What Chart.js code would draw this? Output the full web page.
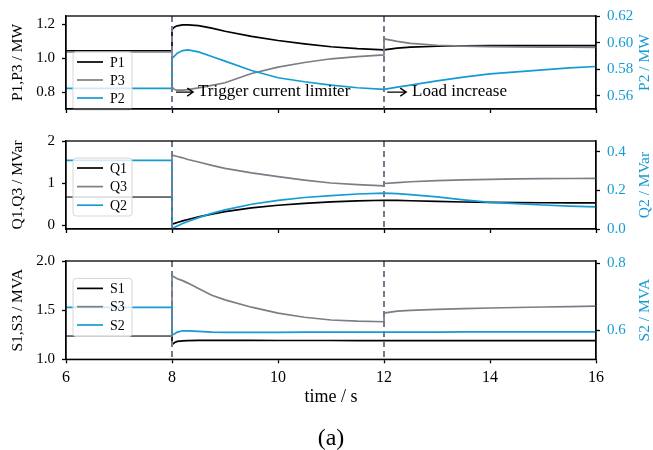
<!DOCTYPE html>
<html lang="en">
  <head>
    <meta charset="utf-8">
    <title>P, Q, S responses</title>
    <script src="https://cdn.jsdelivr.net/npm/chart.js@4.4.1/dist/chart.umd.min.js"></script>
    <style>
      body { margin: 0; background: #fff; }
      #wrap { position: relative; width: 653px; height: 450px; }
      canvas { position: absolute; left: 0; }
      #cap { position: absolute; left: 0; width: 662px; top: 423px; text-align: center;
             font: 24px "Liberation Serif", serif; line-height: 28px; color: #000; }
    </style>
  </head>
  <body>
    <div id="wrap">
      <canvas id="c1" width="653" height="125" style="top:0px"></canvas>
      <canvas id="c2" width="653" height="120" style="top:125px"></canvas>
      <canvas id="c3" width="653" height="205" style="top:245px"></canvas>
      <div id="cap">(a)</div>
    </div>
    <script>
      // time base (s); repeated 8 and 12 give the steps
      const time = [6, 8, 8, 8.05, 8.1, 8.2, 8.3, 8.5, 8.75, 9, 9.5, 10, 10.5, 11, 11.5, 12, 12, 12.25, 12.5, 13, 13.5, 14, 14.5, 15, 15.5, 16];

      const P1 = [1.044, 1.044, 1.17, 1.185, 1.192, 1.197, 1.198, 1.193, 1.178, 1.16, 1.13, 1.105, 1.085, 1.068, 1.057, 1.05, 1.05, 1.06, 1.066, 1.071, 1.074, 1.075, 1.075, 1.075, 1.075, 1.075];
      const P3 = [1.038, 1.038, 0.83, 0.815, 0.812, 0.812, 0.815, 0.825, 0.84, 0.855, 0.91, 0.948, 0.975, 0.997, 1.01, 1.02, 1.115, 1.1, 1.088, 1.077, 1.072, 1.069, 1.067, 1.066, 1.066, 1.065];
      const P2 = [0.5655, 0.5655, 0.588, 0.59, 0.592, 0.594, 0.5945, 0.593, 0.5895, 0.586, 0.579, 0.5735, 0.5705, 0.568, 0.566, 0.5648, 0.5648, 0.5665, 0.568, 0.5712, 0.574, 0.5765, 0.578, 0.5795, 0.581, 0.582];

      const Q1 = [0.67, 0.67, 0.02, 0.04, 0.06, 0.097, 0.131, 0.194, 0.261, 0.318, 0.407, 0.471, 0.517, 0.55, 0.574, 0.59, 0.59, 0.585, 0.578, 0.562, 0.548, 0.538, 0.533, 0.53, 0.529, 0.528];
      const Q3 = [0.67, 0.67, 1.67, 1.65, 1.63, 1.6, 1.56, 1.5, 1.42, 1.35, 1.24, 1.15, 1.07, 1.0, 0.96, 0.93, 0.99, 1.01, 1.03, 1.055, 1.075, 1.088, 1.097, 1.103, 1.107, 1.11];
      const Q2 = [0.355, 0.355, 0.003, 0.009, 0.016, 0.028, 0.039, 0.059, 0.081, 0.099, 0.128, 0.148, 0.163, 0.173, 0.181, 0.186, 0.186, 0.183, 0.178, 0.166, 0.151, 0.138, 0.131, 0.124, 0.118, 0.114];

      const S1 = [1.238, 1.238, 1.148, 1.17, 1.182, 1.188, 1.19, 1.192, 1.192, 1.192, 1.192, 1.191, 1.191, 1.191, 1.19, 1.19, 1.19, 1.19, 1.19, 1.19, 1.19, 1.19, 1.19, 1.19, 1.19, 1.19];
      const S3 = [1.238, 1.238, 1.85, 1.835, 1.82, 1.8, 1.775, 1.72, 1.652, 1.605, 1.53, 1.47, 1.428, 1.4, 1.388, 1.382, 1.47, 1.49, 1.497, 1.507, 1.515, 1.522, 1.527, 1.532, 1.536, 1.54];
      const S2 = [0.6675, 0.6675, 0.585, 0.589, 0.594, 0.598, 0.598, 0.596, 0.594, 0.593, 0.593, 0.593, 0.594, 0.594, 0.594, 0.594, 0.594, 0.594, 0.594, 0.594, 0.595, 0.595, 0.595, 0.595, 0.595, 0.595];

      // ticks
      const xTicks = [6, 8, 10, 12, 14, 16];
      const pLeftTicks = [0.8, 1.0, 1.2], pRightTicks = [0.56, 0.58, 0.60, 0.62];
      const qLeftTicks = [0, 1, 2], qRightTicks = [0.0, 0.2, 0.4];
      const sLeftTicks = [1.0, 1.5, 2.0], sRightTicks = [0.6, 0.8];

      // event times and the two notes
      const events = [8, 12];
      const noteText = ['Trigger current limiter', 'Load increase'];
      const noteArrowFrom = [8.075, 12.06];
      const noteArrowTo = [8.40, 12.42];
      const noteTextAt = [8.49, 12.53];
      const noteY = 0.8;

      const BLACK = '#000000', GRAY = '#7b7e86', BLUE = '#159bd3';
      const SERIF = '"Liberation Serif", "Times New Roman", serif';

      function pts(v) { return time.map((t, i) => ({x: t, y: v[i]})); }

      const panelPlugin = {
        id: 'panel',
        afterDatasetsDraw(chart, args, o) {
          const ctx = chart.ctx, a = chart.chartArea, xs = chart.scales.x;
          ctx.save();
          // dashed event markers
          ctx.strokeStyle = '#737b8f';
          ctx.lineWidth = 2;
          ctx.setLineDash([6, 4]);
          events.forEach(t => {
            const x = xs.getPixelForValue(t);
            ctx.beginPath(); ctx.moveTo(x, a.top); ctx.lineTo(x, a.bottom); ctx.stroke();
          });
          ctx.setLineDash([]);

          // notes with arrows
          if (o.notes) {
            const y = chart.scales.y.getPixelForValue(noteY);
            ctx.strokeStyle = '#000'; ctx.fillStyle = '#000'; ctx.lineWidth = 1.3;
            for (let i = 0; i < noteText.length; i++) {
              const x0 = xs.getPixelForValue(noteArrowFrom[i]);
              const x1 = xs.getPixelForValue(noteArrowTo[i]);
              ctx.beginPath();
              ctx.moveTo(x0, y); ctx.lineTo(x1, y);
              ctx.moveTo(x1 - 6, y - 4); ctx.lineTo(x1, y); ctx.lineTo(x1 - 6, y + 4);
              ctx.stroke();
              ctx.font = '17px ' + SERIF;
              ctx.textAlign = 'left'; ctx.textBaseline = 'middle';
              ctx.fillText(noteText[i], xs.getPixelForValue(noteTextAt[i]), y - 1);
            }
          }

          // legend box
          const bx = a.left + 7, by = a.top + o.legendTop, bw = 59, bh = 58;
          ctx.beginPath();
          ctx.roundRect(bx, by, bw, bh, 3);
          ctx.fillStyle = 'rgba(255,255,255,0.8)';
          ctx.fill();
          ctx.strokeStyle = '#d6d6d6'; ctx.lineWidth = 1;
          ctx.stroke();
          o.legend.forEach((d, i) => {
            const ly = by + 10 + i * o.legendStep;
            ctx.strokeStyle = d.color; ctx.lineWidth = 1.7;
            ctx.beginPath(); ctx.moveTo(bx + 4, ly); ctx.lineTo(bx + 30, ly); ctx.stroke();
            ctx.fillStyle = '#000';
            ctx.font = '14px ' + SERIF;
            ctx.textAlign = 'left'; ctx.textBaseline = 'middle';
            ctx.fillText(d.label, bx + 37, ly + 1);
          });

          // frame
          ctx.strokeStyle = '#000'; ctx.lineWidth = 1.3;
          ctx.strokeRect(a.left, a.top, a.width, a.height);

          // right-hand title, reads bottom to top
          ctx.translate(645, (a.top + a.bottom) / 2);
          ctx.rotate(-Math.PI / 2);
          ctx.fillStyle = BLUE;
          ctx.font = '15.5px ' + SERIF;
          ctx.textAlign = 'center'; ctx.textBaseline = 'middle';
          ctx.fillText(o.rightTitle, 0, 0);
          ctx.restore();
        }
      };

      function makePanel(id, cfg) {
        const line = (label, data, color, axis, order) => ({
          label: label, data: pts(data), borderColor: color, borderWidth: 1.7,
          pointRadius: 0, fill: false, tension: 0, yAxisID: axis, order: order
        });
        return new Chart(document.getElementById(id), {
          type: 'line',
          data: {
            datasets: [
              line(cfg.names[0], cfg.a, BLACK, 'y', 2),
              line(cfg.names[1], cfg.b, GRAY, 'y', 1),
              line(cfg.names[2], cfg.c, BLUE, 'y1', 0)
            ]
          },
          options: {
            responsive: false,
            animation: false,
            devicePixelRatio: 1,
            layout: { padding: { top: cfg.padTop, left: 0, right: 0, bottom: 0 } },
            scales: {
              x: {
                type: 'linear', min: 6, max: 16,
                afterBuildTicks: s => { s.ticks = xTicks.map(v => ({value: v})); },
                afterFit: s => { s.height = cfg.xHeight; },
                ticks: { display: cfg.xLabels, color: '#000', padding: 5,
                         font: { family: SERIF, size: 16 }, maxRotation: 0 },
                grid: { drawOnChartArea: false, drawTicks: true, tickLength: 4, color: '#000', tickWidth: 1.3 },
                border: { color: '#000', width: 1.3 },
                title: { display: cfg.xLabels, text: 'time / s', color: '#000',
                         font: { family: SERIF, size: 18 }, padding: { top: 0, bottom: cfg.xTitlePad } }
              },
              y: {
                position: 'left', min: cfg.yMin, max: cfg.yMax,
                afterBuildTicks: s => { s.ticks = cfg.yTicks.map(v => ({value: v})); },
                afterFit: s => { s.width = 66; },
                ticks: { color: '#000', padding: 7, font: { family: SERIF, size: 15 },
                         callback: v => v.toFixed(cfg.yDec) },
                grid: { drawOnChartArea: false, tickLength: 4, color: '#000', tickWidth: 1.3 },
                border: { color: '#000', width: 1.3 },
                title: { display: true, text: cfg.leftTitle, color: '#000',
                         font: { family: SERIF, size: 15.5 }, padding: { top: 8.5, bottom: 0 } }
              },
              y1: {
                position: 'right', min: cfg.rMin, max: cfg.rMax,
                afterBuildTicks: s => { s.ticks = cfg.rTicks.map(v => ({value: v})); },
                afterFit: s => { s.width = 57; },
                ticks: { color: BLUE, padding: 7, font: { family: SERIF, size: 15 },
                         callback: v => v.toFixed(cfg.rDec) },
                grid: { drawOnChartArea: false, tickLength: 4, color: '#000', tickWidth: 1.3 },
                border: { color: '#000', width: 1.3 }
              }
            },
            plugins: {
              legend: { display: false },
              tooltip: { enabled: false },
              panel: {
                legend: [
                  { label: cfg.names[0], color: BLACK },
                  { label: cfg.names[1], color: GRAY },
                  { label: cfg.names[2], color: BLUE }
                ],
                legendTop: cfg.legendTop, legendStep: cfg.legendStep,
                rightTitle: cfg.rightTitle, notes: cfg.notes
              }
            }
          },
          plugins: [panelPlugin]
        });
      }

      makePanel('c1', {
        names: ['P1', 'P3', 'P2'], a: P1, b: P3, c: P2,
        padTop: 15, xHeight: 9, xLabels: false, xTitlePad: 0,
        yMin: 0.7, yMax: 1.25, yTicks: pLeftTicks, yDec: 1, leftTitle: 'P1,P3 / MW',
        rMin: 0.55, rMax: 0.62, rTicks: pRightTicks, rDec: 2, rightTitle: 'P2 / MW',
        legendTop: 36, legendStep: 18, notes: true
      });
      makePanel('c2', {
        names: ['Q1', 'Q3', 'Q2'], a: Q1, b: Q3, c: Q2,
        padTop: 10.7, xHeight: 7.7, xLabels: false, xTitlePad: 0,
        yMin: -0.095, yMax: 2, yTicks: qLeftTicks, yDec: 0, leftTitle: 'Q1,Q3 / MVar',
        rMin: 0, rMax: 0.455, rTicks: qRightTicks, rDec: 1, rightTitle: 'Q2 / MVar',
        legendTop: 17, legendStep: 18.6, notes: false
      });
      makePanel('c3', {
        names: ['S1', 'S3', 'S2'], a: S1, b: S3, c: S2,
        padTop: 13.3, xHeight: 90.7, xLabels: true, xTitlePad: 42,
        yMin: 1.0, yMax: 2.0, yTicks: sLeftTicks, yDec: 1, leftTitle: 'S1,S3 / MVA',
        rMin: 0.513, rMax: 0.806, rTicks: sRightTicks, rDec: 1, rightTitle: 'S2 / MVA',
        legendTop: 17.4, legendStep: 18.3, notes: false
      });
    </script>
  </body>
</html>
